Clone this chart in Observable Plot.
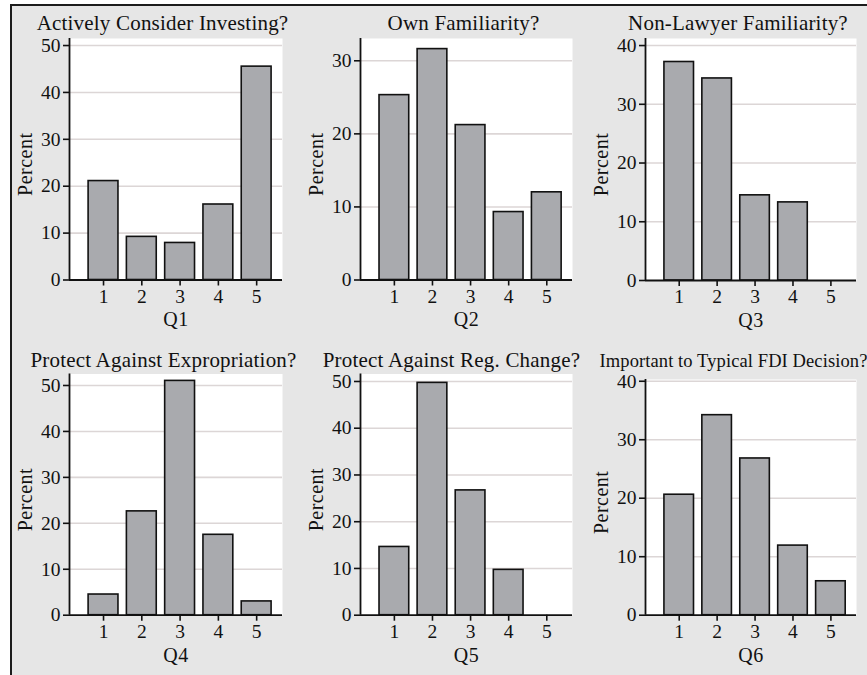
<!DOCTYPE html>
<html>
<head>
<meta charset="utf-8">
<script src="https://cdn.jsdelivr.net/npm/d3@7"></script>
<script src="https://cdn.jsdelivr.net/npm/@observablehq/plot@0.6"></script>
<style>
  html, body { margin: 0; padding: 0; background: #fff; }
  #wrap { position: relative; width: 867px; height: 675px; overflow: hidden; background: #fff; }
  #bg { position: absolute; left: 10px; top: 4px; right: -5px; bottom: -5px; background: #e6e6e6;
        border-top: 2px solid #1c1c1c; border-left: 2px solid #1c1c1c; }
  .panel { position: absolute; overflow: visible; }
  .panel svg { overflow: visible; }
  .panel g[font-size="21"] text { letter-spacing: 0.2px; }
  .panel g[font-size="18.5"] text { letter-spacing: 0.1px; }
  .panel g[font-size="20"] text { letter-spacing: 0.5px; }
</style>
</head>
<body>
<div id="wrap"><div id="bg"></div></div>
<script>
// ---- data ----
const responses = [1, 2, 3, 4, 5];
const questions = ["Q1", "Q2", "Q3", "Q4", "Q5", "Q6"];
const titles = [
  "Actively Consider Investing?",
  "Own Familiarity?",
  "Non-Lawyer Familiarity?",
  "Protect Against Expropriation?",
  "Protect Against Reg. Change?",
  "Important to Typical FDI Decision?"
];
const q1 = [21.1, 9.2, 7.9, 16.1, 45.5];
const q2 = [25.3, 31.6, 21.2, 9.3, 12.0];
const q3 = [37.2, 34.4, 14.5, 13.3, 0];
const q4 = [4.5, 22.6, 51.0, 17.5, 3.0];
const q5 = [14.6, 49.7, 26.7, 9.7, 0];
const q6 = [20.6, 34.2, 26.8, 11.9, 5.8];
const series = [q1, q2, q3, q4, q5, q6];
const yTop = [51.5, 33.05, 41.2, 52.5, 51.6, 40.3];
const yLabel = "Percent";

// ---- layout ----
const plotLeft = [69, 360, 645, 69, 360, 645];
const plotRight = [282, 572, 856, 282, 572, 856];
const plotTop = [38, 38, 38, 373.5, 373.5, 379];
const plotBottom = [279.5, 279.5, 280, 614.7, 614.7, 614.7];
const svgTopRow = [0, 0, 0, 336, 336, 336];
const svgBottomRow = [336, 336, 336, 675, 675, 675];
const titleCenter = [162, 463, 737.5, 163, 451, 733];
const titleBaseline = [29.5, 29.5, 29.5, 366, 366, 366];
const titleSize = [21, 21, 21, 21, 21, 18.5];

const wrap = document.getElementById("wrap");

series.forEach((vals, i) => {
  const L = plotLeft[i], R = plotRight[i], T = plotTop[i], B = plotBottom[i];
  const sTop = svgTopRow[i], sBot = svgBottomRow[i];
  const sLeft = L - 62;
  const data = responses.map((r, j) => ({r, v: vals[j]})).filter(d => d.v > 0);
  const ticksY = d3.range(0, yTop[i], 10);
  const fs = titleSize[i];
  const titleAnchorY = titleBaseline[i] - 0.32 * fs; // middle line anchor
  const chart = Plot.plot({
    width: R - sLeft,
    height: sBot - sTop,
    marginLeft: L - sLeft,
    marginRight: 0,
    marginTop: T - sTop,
    marginBottom: sBot - B,
    style: {background: "transparent", fontFamily: "'Liberation Serif', 'Times New Roman', serif", fontSize: "19.5px", color: "#111", overflow: "visible"},
    x: {type: "linear", domain: [0.111, 5.675], axis: null},
    y: {domain: [0, yTop[i]], axis: null},
    marks: [
      Plot.frame({fill: "white", stroke: null}),
      Plot.gridY(ticksY.filter(t => t > 0), {stroke: "#dcd6d6", strokeOpacity: 1, strokeWidth: 1.6}),
      Plot.rectY(data, {x1: d => d.r - 0.39, x2: d => d.r + 0.39, y1: 0, y2: "v", fill: "#a9aaae", stroke: "#111", strokeWidth: 1.6}),
      Plot.axisY({ticks: ticksY, tickSize: 6, tickPadding: 3, fontSize: 19.5, stroke: "#111", strokeWidth: 1.6, label: null}),
      Plot.axisX({ticks: responses, tickSize: 6, tickPadding: 3, fontSize: 19.5, stroke: "#111", strokeWidth: 1.6, label: null, tickFormat: d => String(d)}),
      Plot.ruleY([0], {stroke: "#111", strokeWidth: 1.8}),
      Plot.ruleX([0.111], {stroke: "#111", strokeWidth: 1.8}),
      Plot.text([yLabel], {frameAnchor: "left", textAnchor: "middle", lineAnchor: "middle", rotate: -90, dx: -44, dy: 5, fontSize: 20, fill: "#111"}),
      Plot.text([questions[i]], {frameAnchor: "bottom", lineAnchor: "middle", dy: 40, fontSize: 20, fill: "#111"}),
      Plot.text([titles[i]], {frameAnchor: "top", lineAnchor: "middle", textAnchor: "middle", dx: titleCenter[i] - (L + R) / 2, dy: titleAnchorY - T, fontSize: fs, fill: "#111"})
    ]
  });
  chart.classList.add("panel");
  chart.style.left = sLeft + "px";
  chart.style.top = sTop + "px";
  wrap.appendChild(chart);
});
</script>
</body>
</html>
